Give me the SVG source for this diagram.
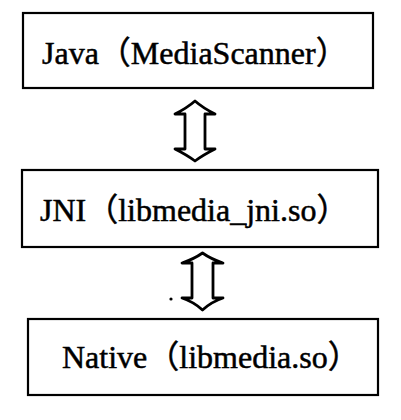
<svg xmlns="http://www.w3.org/2000/svg" width="401" height="420" viewBox="0 0 401 420">
<style>
.box{fill:#fff;stroke:#000;stroke-width:2.2}
.lbl{font-family:"Liberation Serif","Noto Sans CJK SC",serif;font-size:32px;fill:#000;stroke:#000;stroke-width:0.5}
.arr{fill:#fff;stroke:#000;stroke-width:2.8;stroke-linejoin:round}
</style>
<rect width="401" height="420" fill="#fff"/>
<g id="java">
<rect class="box" x="23" y="13" width="350" height="75"/>
<text class="lbl" x="42" y="64">Java（MediaScanner）</text>
</g>
<g id="jni">
<rect class="box" x="22" y="170" width="356" height="77"/>
<text class="lbl" x="40" y="221">JNI（libmedia_jni.so）</text>
</g>
<g id="native">
<rect class="box" x="28" y="319" width="350" height="76"/>
<text class="lbl" x="62" y="368">Native（libmedia.so）</text>
</g>
<g id="connectors">
<path class="arr" d="M195,101 Q203,108 215,114 L205,114 L205,149 L215,149 Q203,155 195,161 Q187,155 175,149 L185,149 L185,114 L175,114 Q187,108 195,101 Z"/>
<path class="arr" d="M202.5,253 Q211,259 223,263 L213,263 L213,298 L223,298 Q211,302 202.5,310 Q194,302 182,298 L192,298 L192,263 L182,263 Q194,259 202.5,253 Z"/>
<circle cx="171" cy="299" r="1.6" fill="#000"/>
</g>
</svg>
